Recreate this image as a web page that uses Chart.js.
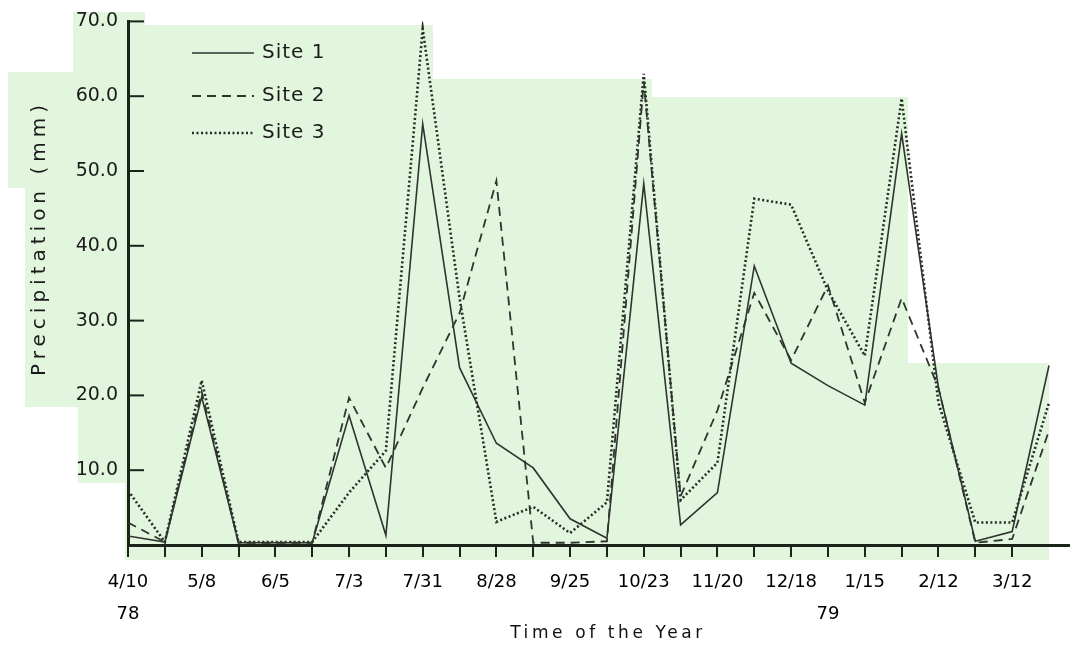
<!DOCTYPE html>
<html>
<head>
<meta charset="utf-8">
<script src="https://cdn.jsdelivr.net/npm/chart.js@4"></script>
<style>
  body { margin: 0; background: #fff; }
  .chart-box { width: 1070px; height: 647px; }
</style>
</head>
<body>
<div class="chart-box"><canvas id="precip-chart"></canvas></div>
<script>
// tick every two weeks, labelled every four
const tickLabels = ["4/10", "", "5/8", "", "6/5", "", "7/3", "", "7/31", "", "8/28", "", "9/25", "",
  "10/23", "", "11/20", "", "12/18", "", "1/15", "", "2/12", "", "3/12", ""];
const yearLabels = ["78", "", "", "", "", "", "", "", "", "", "", "", "", "",
  "", "", "", "", "", "79", "", "", "", "", "", ""];

const site1 = [1.2, 0.4, 19.8, 0.3, 0.3, 0.3, 17.3, 1.3, 56.3, 23.7, 13.6, 10.3, 3.5, 0.9,
  48.3, 2.7, 7.0, 37.3, 24.3, 21.3, 18.7, 55.0, 21.0, 0.5, 1.8, 24.0];
const site2 = [3.0, 0.4, 20.5, 0.3, 0.3, 0.3, 19.7, 10.3, 21.0, 31.0, 48.7, 0.3, 0.3, 0.5,
  62.0, 6.5, 18.0, 33.7, 24.7, 34.7, 19.0, 33.0, 21.0, 0.3, 0.8, 15.3];
const site3 = [7.3, 0.4, 22.0, 0.4, 0.4, 0.4, 7.0, 12.6, 69.0, 33.0, 3.1, 5.1, 1.6, 5.7,
  63.0, 6.0, 11.0, 46.3, 45.5, 34.0, 25.3, 59.7, 19.0, 3.0, 3.0, 19.0];

const ink = "#1a241a";
const lineInk = "#2f342f";

const toPoints = (arr) => arr.map((v, i) => ({ x: i, y: v }));

// green patches of the scanned page behind the plot
const paperPatches = [
  [73, 12, 72, 13], [73, 25, 360, 47], [8, 72, 425, 116], [25, 188, 408, 219],
  [78, 407, 355, 76], [125, 483, 308, 77], [432, 79, 220, 481], [652, 97, 256, 463],
  [908, 363, 141, 197],
];

const paperPlugin = {
  id: "paper",
  beforeDraw(chart) {
    const c = chart.ctx;
    c.save();
    c.fillStyle = "#e1f6dd";
    paperPatches.forEach((p) => c.fillRect(p[0], p[1], p[2], p[3]));
    c.restore();
  },
};

const extrasPlugin = {
  id: "extras",
  afterDraw(chart) {
    const c = chart.ctx;
    const y = chart.scales.y;
    const left = chart.chartArea.left;
    c.save();
    // y ticks point into the plot
    c.strokeStyle = ink;
    c.lineWidth = 2;
    y.ticks.forEach((t) => {
      if (t.value === 0) return;
      const py = y.getPixelForValue(t.value);
      c.beginPath();
      c.moveTo(left, py);
      c.lineTo(left + 16, py);
      c.stroke();
    });

    // legend
    c.font = "20px 'DejaVu Sans'";
    c.letterSpacing = "1px";
    c.fillStyle = "#1a1a1a";
    c.textBaseline = "middle";
    const legendY = [53, 96, 133];
    chart.data.datasets.forEach((ds, i) => {
      c.strokeStyle = ds.borderColor;
      c.lineWidth = ds.borderWidth;
      c.setLineDash(ds.borderDash || []);
      c.beginPath();
      c.moveTo(192, legendY[i]);
      c.lineTo(254, legendY[i]);
      c.stroke();
      c.fillText(ds.label, 262, legendY[i]);
    });
    c.setLineDash([]);

    // axis titles
    c.letterSpacing = "3.6px";
    c.textAlign = "center";
    c.font = "17px 'DejaVu Sans'";
    c.fillStyle = "#111";
    c.fillText("Time of the Year", 608, 634);
    c.translate(40, 238);
    c.rotate(-Math.PI / 2);
    c.letterSpacing = "5px";
    c.font = "20px 'DejaVu Sans'";
    c.fillStyle = "#1a1a1a";
    c.fillText("Precipitation (mm)", 0, 0);
    c.restore();
  },
};

const ctx = document.getElementById("precip-chart");

new Chart(ctx, {
  type: "line",
  data: {
    datasets: [
      { label: "Site 1", data: toPoints(site1), borderColor: lineInk, borderWidth: 1.6 },
      { label: "Site 2", data: toPoints(site2), borderColor: lineInk, borderWidth: 1.8, borderDash: [9, 6] },
      { label: "Site 3", data: toPoints(site3), borderColor: "#262b26", borderWidth: 2.6, borderDash: [2, 2.5] },
    ],
  },
  options: {
    responsive: true,
    maintainAspectRatio: false,
    animation: false,
    layout: { padding: { top: 20, right: 0, left: 0, bottom: 0 } },
    elements: { point: { radius: 0 }, line: { tension: 0 } },
    plugins: { legend: { display: false }, tooltip: { enabled: false } },
    scales: {
      x: {
        type: "linear",
        min: 0,
        max: 25.57,
        afterBuildTicks: (s) => {
          s.ticks = s.ticks.filter((t) => Number.isInteger(t.value));
        },
        afterFit: (s) => { s.height = 102; },
        ticks: {
          stepSize: 1,
          autoSkip: false,
          maxRotation: 0,
          padding: 10,
          color: "#000",
          font: { family: "'DejaVu Sans'", size: 18, lineHeight: 1.75 },
          callback: (v) => (yearLabels[v] ? [tickLabels[v], yearLabels[v]] : tickLabels[v]),
        },
        grid: { drawOnChartArea: false, tickLength: 12, color: ink, lineWidth: 2 },
        border: { color: ink, width: 3 },
      },
      y: {
        min: 0,
        max: 70,
        afterFit: (s) => { s.width = 128; },
        ticks: {
          stepSize: 10,
          padding: 10,
          color: "#1a1a1a",
          font: { family: "'DejaVu Sans'", size: 19 },
          callback: (v) => (v === 0 ? "" : v.toFixed(1)),
        },
        grid: { drawOnChartArea: false, drawTicks: false },
        border: { color: ink, width: 3 },
      },
    },
  },
  plugins: [paperPlugin, extrasPlugin],
});
</script>
</body>
</html>
